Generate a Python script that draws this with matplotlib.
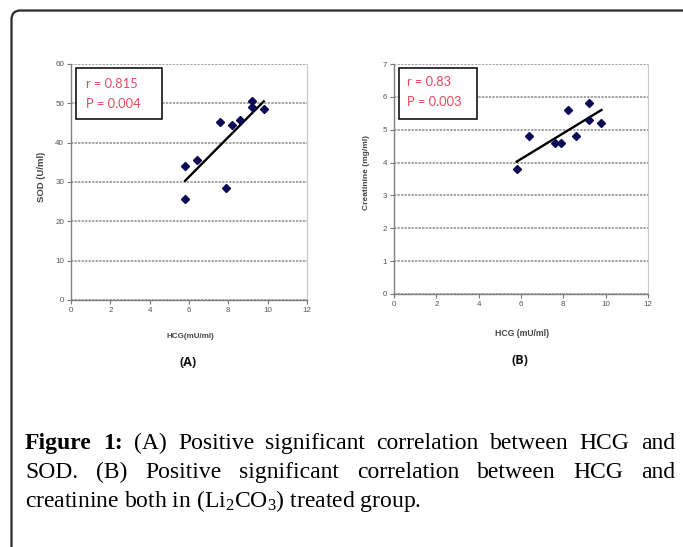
import matplotlib
matplotlib.use("Agg")
import matplotlib.pyplot as plt
from matplotlib.patches import FancyBboxPatch, Rectangle

# panel A: HCG vs SOD
A_HCG = [5.8, 5.8, 6.4, 7.6, 7.9, 8.2, 8.6, 9.2, 9.2, 9.8]
A_SOD = [34.0, 25.7, 35.7, 45.3, 28.6, 44.5, 45.7, 50.6, 49.1, 48.6]
A_TREND_X = [5.8, 9.8]
A_TREND_Y = [30.3, 50.5]
A_STATS = ["r = 0.815", "P = 0.004"]

# panel B: HCG vs creatinine
B_HCG = [5.8, 6.4, 7.6, 7.9, 8.2, 8.6, 9.2, 9.2, 9.8]
B_CRE = [3.8, 4.8, 4.6, 4.6, 5.6, 4.8, 5.8, 5.3, 5.2]
B_TREND_X = [5.8, 9.8]
B_TREND_Y = [4.03, 5.6]
B_STATS = ["r = 0.83", "P = 0.003"]

X_TICKS = [0, 2, 4, 6, 8, 10, 12]
A_Y_TICKS = [0, 10, 20, 30, 40, 50, 60]
B_Y_TICKS = [0, 1, 2, 3, 4, 5, 6, 7]

CAPTION_1 = [("Figure", "bold"), ("1:", "bold"), ("(A)", "normal"), ("Positive", "normal"),
             ("significant", "normal"), ("correlation", "normal"), ("between", "normal"),
             ("HCG", "normal"), ("and", "normal")]
CAPTION_2 = ["SOD.", "(B)", "Positive", "significant", "correlation", "between", "HCG", "and"]
CAPTION_3 = r"creatinine both in (Li$\mathregular{_2}$CO$\mathregular{_3}$) treated group."

W, H = 683, 547
MARKER = "#0b0b55"
RED = "#e8475a"
TICK_FONT = dict(family="Liberation Sans", size=5.8, color="#555555")


def style_axes(ax, yticks):
    ax.set_xlim(0, 12)
    ax.set_ylim(yticks[0], yticks[-1])
    ax.set_xticks(X_TICKS)
    ax.set_yticks(yticks)
    ax.set_xticklabels([str(t) for t in X_TICKS], **TICK_FONT)
    ax.set_yticklabels([str(t) for t in yticks], **TICK_FONT)
    ax.tick_params(length=3, width=0.8, color="#777777", pad=2)
    ax.yaxis.grid(True, color="#8a8a8a", linestyle=(0, (1.5, 0.8)), linewidth=1.1)
    ax.set_axisbelow(True)
    for side in ["left", "bottom"]:
        ax.spines[side].set_color("#808080")
        ax.spines[side].set_linewidth(1.0)
    ax.spines["right"].set_color("#c8c8c8")
    ax.spines["top"].set_visible(False)


def stats_box(ax, lines, box, text_x, text_ys):
    x0, y0, x1, y1 = box
    ax.add_patch(Rectangle((x0, y0), x1 - x0, y1 - y0, transform=ax.transAxes,
                           facecolor="white", edgecolor="black", linewidth=1.1, zorder=3))
    for line, ty in zip(lines, text_ys):
        ax.text(text_x, ty, line, transform=ax.transAxes, color=RED, fontsize=9.3,
                family="Lato", va="center", ha="left", zorder=4)


def justified(bg, renderer, words, x0, x1, y, size):
    texts = [bg.text(0, y, w, fontsize=size, fontweight=wt, family="Liberation Serif",
                     va="baseline", ha="left") for w, wt in words]
    widths = []
    inv = bg.transData.inverted()
    for t in texts:
        bb = t.get_window_extent(renderer)
        a = inv.transform((bb.x0, bb.y0))
        b = inv.transform((bb.x1, bb.y1))
        widths.append(b[0] - a[0])
    gap = (x1 - x0 - sum(widths)) / (len(words) - 1)
    x = x0
    for t, w in zip(texts, widths):
        t.set_x(x)
        x += w + gap


fig = plt.figure(figsize=(W / 100, H / 100), dpi=100)

bg = fig.add_axes([0, 0, 1, 1], zorder=-1)
bg.set_xlim(0, W)
bg.set_ylim(H, 0)
bg.axis("off")
bg.add_patch(FancyBboxPatch((11.5, 10.5), 700, 600, boxstyle="round,pad=0,rounding_size=9",
                            facecolor="white", edgecolor="#2a2a2a", linewidth=1.6))

# panel A
axA = fig.add_axes([71 / W, 1 - 300 / H, 236 / W, 236 / H])
style_axes(axA, A_Y_TICKS)
axA.plot(A_TREND_X, A_TREND_Y, color="black", linewidth=1.7, zorder=2)
axA.plot(A_HCG, A_SOD, linestyle="none", marker="D", markersize=4.0, color=MARKER, zorder=2)
stats_box(axA, A_STATS, (0.021, 0.767, 0.384, 0.984), 0.064, [0.914, 0.829])
axA.set_ylabel("SOD (U/ml)", fontsize=6.8, fontweight="bold", color="#444444",
               family="Liberation Sans")
axA.yaxis.set_label_coords(-0.106, 0.52)

# panel B
axB = fig.add_axes([394 / W, 1 - 294 / H, 254 / W, 230 / H])
style_axes(axB, B_Y_TICKS)
axB.plot(B_TREND_X, B_TREND_Y, color="black", linewidth=1.7, zorder=2)
axB.plot(B_HCG, B_CRE, linestyle="none", marker="D", markersize=4.0, color=MARKER, zorder=2)
stats_box(axB, B_STATS, (0.0197, 0.761, 0.326, 0.984), 0.050, [0.923, 0.836])
axB.set_ylabel("Creatinine (mg/ml)", fontsize=6.0, fontweight="bold", color="#444444",
               family="Liberation Sans")
axB.yaxis.set_label_coords(-0.094, 0.53)

# x labels and panel tags
bg.text(190, 337, "HCG(mU/ml)", fontsize=5.8, fontweight="bold", color="#444444",
        family="Liberation Sans", ha="center", va="center")
bg.text(522, 333, "HCG (mU/ml)", fontsize=6.2, fontweight="bold", color="#444444",
        family="Liberation Sans", ha="center", va="center")
bg.text(188, 363, "(A)", fontsize=9, fontweight="bold", color="#111111",
        family="Open Sans", ha="center", va="center")
bg.text(520, 361, "(B)", fontsize=9, fontweight="bold", color="#111111",
        family="Open Sans", ha="center", va="center")

# caption
renderer = fig.canvas.get_renderer()
cap_size = 17
justified(bg, renderer, CAPTION_1, 25, 675, 449, cap_size)
justified(bg, renderer, [(w, "normal") for w in CAPTION_2], 25, 675, 478, cap_size)
bg.text(25, 507, CAPTION_3, fontsize=cap_size, family="Liberation Serif",
        va="baseline", ha="left")

fig.savefig("out.png", dpi=100)
